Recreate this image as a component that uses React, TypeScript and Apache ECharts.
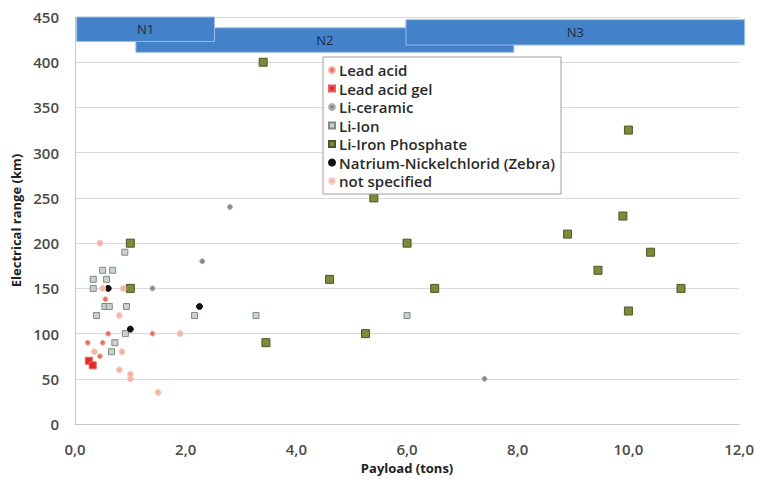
import React, { useEffect, useRef } from "react";
import * as echarts from "echarts";

const categories = [
  "Lead acid",
  "Lead acid gel",
  "Li-ceramic",
  "Li-Ion",
  "Li-Iron Phosphate",
  "Natrium-Nickelchlorid (Zebra)",
  "not specified",
];

const leadAcid = [[0.23, 90], [0.5, 90], [0.6, 100], [0.45, 75], [0.55, 138], [1.4, 100]];
const leadAcidGel = [[0.25, 70], [0.32, 65]];
const liCeramic = [[1.4, 150], [2.8, 240], [7.4, 50], [2.3, 180]];
const liIon = [
  [0.9, 190], [0.5, 170], [0.68, 170], [0.33, 160], [0.57, 160], [0.33, 150],
  [0.54, 130], [0.62, 130], [0.93, 130], [0.39, 120], [2.16, 120], [3.27, 120],
  [6.0, 120], [0.91, 100], [0.72, 90], [0.66, 80],
];
const liFePO4 = [
  [3.4, 400], [5.4, 250], [10.0, 325], [9.9, 230], [8.9, 210], [6.0, 200],
  [10.4, 190], [9.45, 170], [4.6, 160], [6.5, 150], [10.95, 150], [10.0, 125],
  [5.25, 100], [3.45, 90], [1.0, 200], [1.0, 150],
];
const zebra = [[0.6, 150], [1.0, 105], [2.25, 130]];
const notSpecified = [
  [0.45, 200], [1.9, 100], [0.85, 80], [0.35, 80], [0.8, 60], [1.0, 50],
  [1.0, 55], [1.5, 35], [0.8, 120], [0.5, 150], [0.87, 150],
];

// bands: [xStart, xEnd, yBottom, yTop, label]
const bands = [
  [1.1, 7.93, 411, 438, "N2"],
  [0.03, 2.52, 423, 450, "N1"],
  [5.98, 12.1, 419, 447, "N3"],
];

const xTicks = { min: 0, max: 12, interval: 2 };
const yTicks = { min: 0, max: 450, interval: 50 };

const FONT = "'Open Sans', Lato, sans-serif";

export default function App() {
  const ref = useRef<HTMLDivElement>(null);
  useEffect(() => {
    if (!ref.current) return;
    const chart = echarts.init(ref.current, null, { renderer: "svg" });
    const styles: any[] = [
      { symbol: "circle", size: 5, color: "#e8705e", border: "#f3b0a5" },
      { symbol: "rect", size: 7, color: "#e02a2a", border: "#e86060" },
      { symbol: "circle", size: 5, color: "#8a8a8a", border: "#b0b0b0" },
      { symbol: "rect", size: 6, color: "#c9d3c9", border: "#7f8a86" },
      { symbol: "rect", size: 8, color: "#7d8a3a", border: "#4d5628" },
      { symbol: "circle", size: 6, color: "#111111", border: "#111111" },
      { symbol: "circle", size: 6, color: "#f2b5a6", border: "#f6cfc6" },
    ];
    const datasets = [leadAcid, leadAcidGel, liCeramic, liIon, liFePO4, zebra, notSpecified];
    const scatterSeries = categories.map((name, i) => ({
      type: "scatter",
      name,
      data: datasets[i],
      symbol: styles[i].symbol,
      symbolSize: styles[i].size,
      z: 3,
      itemStyle: { color: styles[i].color, borderColor: styles[i].border, borderWidth: 1, opacity: 1 },
    }));
    chart.setOption({
      animation: false,
      backgroundColor: "#ffffff",
      grid: { left: 75, right: 15, top: 17, bottom: 48, containLabel: false },
      xAxis: {
        type: "value",
        ...xTicks,
        name: "Payload (tons)",
        nameLocation: "middle",
        nameGap: 32,
        nameTextStyle: { fontFamily: FONT, fontSize: 13, fontWeight: "bold", color: "#222" },
        axisLine: { show: true, lineStyle: { color: "#c8c8c8" } },
        axisTick: { show: false },
        splitLine: { show: false },
        axisLabel: {
          fontFamily: FONT,
          fontSize: 15,
          fontWeight: 600,
          color: "#4a4a4a",
          margin: 17,
          formatter: (v: number) => v.toFixed(1).replace(".", ","),
        },
      },
      yAxis: {
        type: "value",
        ...yTicks,
        name: "Electrical range (km)",
        nameLocation: "middle",
        nameGap: 44,
        nameTextStyle: { fontFamily: FONT, fontSize: 13, fontWeight: "bold", color: "#222" },
        axisLine: { show: true, lineStyle: { color: "#c8c8c8" } },
        axisTick: { show: false },
        splitLine: { show: true, lineStyle: { color: "#d9d9d9" } },
        axisLabel: { fontFamily: FONT, fontSize: 15, fontWeight: 600, color: "#4a4a4a", margin: 16 },
      },
      legend: {
        orient: "vertical",
        left: 323,
        top: 57,
        padding: [4, 6, 4, 5],
        backgroundColor: "#ffffff",
        borderColor: "#a89a98",
        borderWidth: 1,
        itemWidth: 6,
        itemHeight: 6,
        itemGap: 0.5,
        textStyle: { fontFamily: FONT, fontSize: 15, fontWeight: 600, color: "#2a2a2a", lineHeight: 18, padding: [0, 0, 0, -1] },
        data: categories.map((name, i) => ({ name, icon: styles[i].symbol })),
      },
      series: [
        {
          type: "custom",
          name: "bands",
          z: 1,
          clip: false,
          data: bands,
          renderItem: (params: any, api: any) => {
            const p0 = api.coord([api.value(0), api.value(3)]);
            const p1 = api.coord([api.value(1), api.value(2)]);
            const label = bands[params.dataIndex][4] as string;
            return {
              type: "group",
              children: [
                {
                  type: "rect",
                  shape: { x: p0[0], y: p0[1], width: p1[0] - p0[0], height: p1[1] - p0[1] },
                  style: { fill: "#4381c9", stroke: "#9ebde3", lineWidth: 1 },
                },
                {
                  type: "text",
                  style: {
                    text: label,
                    x: (p0[0] + p1[0]) / 2,
                    y: (p0[1] + p1[1]) / 2,
                    align: "center",
                    verticalAlign: "middle",
                    fontFamily: FONT,
                    fontSize: 13,
                    fill: "#1d2d4a",
                  },
                },
              ],
            };
          },
        },
        ...scatterSeries,
      ],
    });
    return () => chart.dispose();
  }, []);
  return <div ref={ref} style={{ width: 757, height: 479, position: "absolute", left: 0, top: 0 }} />;
}
